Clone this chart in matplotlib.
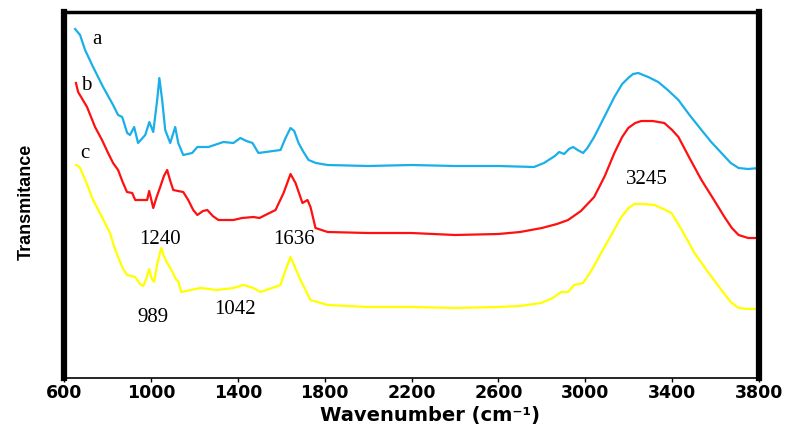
import matplotlib
matplotlib.use("Agg")
import matplotlib.pyplot as plt

# Wavenumber (cm^-1) and transmittance (arbitrary units) for each spectrum
wn_a = [651, 674, 697, 734, 780, 826, 849, 868, 891, 904, 923, 941, 974, 993, 1011,
        1029, 1039, 1052, 1066, 1089, 1112, 1126, 1149, 1190, 1214, 1265, 1334, 1380,
        1412, 1440, 1468, 1495, 1597, 1620, 1643, 1660, 1680, 1700, 1726, 1760, 1814,
        2000, 2200, 2400, 2600, 2764, 2810, 2860, 2880, 2903, 2925, 2944, 2965, 2990,
        3010, 3041, 3090, 3134, 3170, 3198, 3220, 3244, 3290, 3336, 3380, 3429, 3480,
        3535, 3580, 3627, 3670, 3706, 3750, 3800]
t_a = [349, 343, 328, 311, 291, 273, 263, 261, 245, 243, 251, 235, 243, 256, 246,
       278, 300, 278, 248, 235, 251, 235, 223, 225, 231, 231, 236, 235,
       240, 237, 235, 225, 228, 240, 250, 247, 235, 227, 218, 215, 213,
       212, 213, 212, 212, 211, 215, 222, 226, 224, 229, 231, 228, 225,
       230, 241, 262, 281, 294, 300, 304, 305, 301, 296, 288, 278, 263,
       248, 236, 225, 215, 210, 209, 210]

wn_b = [655, 665, 706, 743, 775, 803, 826, 849, 870, 890, 914, 928, 960, 983, 992,
        1000, 1011, 1025, 1043, 1060, 1075, 1088, 1103, 1125, 1149, 1172, 1195, 1214,
        1240, 1260, 1285, 1311, 1380, 1420, 1472, 1500, 1574, 1611, 1643, 1666, 1698,
        1721, 1735, 1758, 1814, 2000, 2200, 2400, 2600, 2700, 2800, 2870, 2921, 2980,
        3041, 3090, 3134, 3170, 3198, 3230, 3258, 3310, 3364, 3400, 3429, 3480, 3535,
        3590, 3641, 3675, 3706, 3750, 3800]
t_b = [295, 286, 271, 251, 238, 225, 215, 208, 196, 186, 185, 178, 178, 178, 187,
       180, 170, 180, 191, 202, 208, 198, 188, 187, 186, 178, 168, 163,
       167, 168, 162, 158, 158, 160, 161, 160, 168, 185, 204, 195, 175,
       178, 171, 150, 146, 145, 145, 143, 144, 146, 150, 154, 158, 167,
       181, 202, 225, 241, 250, 255, 257, 257, 255, 248, 241, 220, 198,
       179, 161, 150, 143, 140, 140]

wn_c = [655, 665, 674, 700, 734, 770, 812, 830, 849, 870, 890, 928, 950, 965, 980,
        992, 1003, 1015, 1030, 1048, 1060, 1075, 1095, 1112, 1125, 1140, 1228, 1306,
        1380, 1426, 1472, 1505, 1597, 1620, 1643, 1665, 1689, 1735, 1814, 2000, 2200,
        2400, 2600, 2700, 2797, 2850, 2889, 2921, 2949, 2990, 3030, 3073, 3120, 3166,
        3200, 3226, 3270, 3318, 3360, 3397, 3450, 3503, 3565, 3627, 3670, 3706, 3750,
        3800]
t_c = [213, 212, 210, 197, 178, 163, 145, 132, 121, 110, 103, 101, 94, 92, 100,
       109, 100, 96, 115, 130, 122, 115, 108, 100, 97, 86, 90, 88,
       90, 93, 90, 86, 93, 108, 121, 110, 98, 78, 73, 71, 71,
       70, 71, 72, 75, 80, 86, 86, 93, 95, 108, 125, 143, 161,
       170, 174, 174, 173, 169, 165, 146, 125, 106, 88, 76, 70, 69,
       69]

series_labels = ["a", "b", "c"]
peak_labels = ["1240", "1636", "989", "1042", "3245"]
xticks = [600, 1000, 1400, 1800, 2200, 2600, 3000, 3400, 3800]

fig = plt.figure(figsize=(7.94, 4.25), dpi=100)
ax = fig.add_axes([64 / 794, 1 - 378 / 425, (759 - 64) / 794, (378 - 12) / 425])

ax.plot(wn_a, t_a, color="#1AAFE8", lw=1.6)
ax.plot(wn_b, t_b, color="#FF1010", lw=1.6)
ax.plot(wn_c, t_c, color="#FFFF00", lw=1.6)

ax.set_xlim(600, 3800)
ax.set_ylim(0, 366)
ax.set_yticks([])
ax.set_xticks(xticks)
ax.set_xticklabels([str(v) for v in xticks], fontsize=12.5, fontweight="bold",
                   family="DejaVu Sans")
ax.tick_params(axis="x", length=3, width=1, pad=1.5)

for s in ["left", "right"]:
    ax.spines[s].set_linewidth(4.5)
ax.spines["top"].set_linewidth(2.5)
ax.spines["bottom"].set_linewidth(1.2)

serif = "Liberation Serif"
kw = dict(fontsize=15, family=serif, ha="center", va="center")
# series letters
ax.text(752, 338, series_labels[0], **kw)
ax.text(700, 293, series_labels[1], **kw)
ax.text(697, 225, series_labels[2], **kw)
# peak labels
ax.text(1040, 138, peak_labels[0], **kw)
ax.text(1661, 138, peak_labels[1], **kw)
ax.text(1011, 60, peak_labels[2], **kw)
ax.text(1389, 68, peak_labels[3], **kw)
ax.text(3286, 198, peak_labels[4], **kw)

ax.set_xlabel("Wavenumber (cm\u207b\u00b9)", fontsize=14, fontweight="bold",
              family="DejaVu Sans")
ax.xaxis.set_label_coords((430 - 64) / 695, (378 - 420.5) / 366)
ax.xaxis.label.set_va("baseline")
ax.set_ylabel("Transmitance", fontsize=13, fontweight="bold",
              family="Liberation Sans")
ax.yaxis.set_label_coords((35 - 64) / 695, (378 - 202) / 366)

fig.savefig("out.png", dpi=100)
